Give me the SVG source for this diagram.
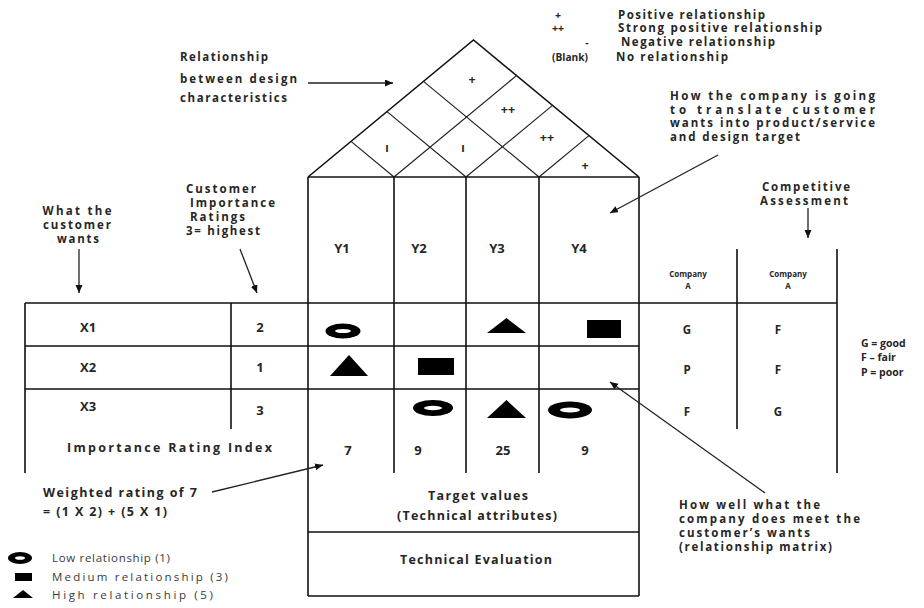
<svg xmlns="http://www.w3.org/2000/svg" width="924" height="608" viewBox="0 0 924 608">
  <style>
    .t { font-family: "Open Sans", "Liberation Sans", sans-serif; font-weight: bold; fill: #262626; }
    .s10 { font-size: 10.5px; }
    .s11 { font-size: 11.5px; }
    .s12 { font-size: 12.5px; }
    .s13 { font-size: 13px; }
    .s8 { font-size: 8px; }
    .lite { font-weight: normal; fill: #3a3a3a; }
    .mid { text-anchor: middle; }
    .ln { stroke: #111; stroke-width: 1.6; fill: none; }
    .thin { stroke: #222; stroke-width: 1.2; fill: none; }
    .arw { stroke: #222; stroke-width: 1.3; fill: none; marker-end: url(#head); }
    .blk { fill: #000; }
    .hole { fill: #fff; }
  </style>
  <defs>
    <marker id="head" markerUnits="userSpaceOnUse" markerWidth="9" markerHeight="8" refX="8" refY="3.5" orient="auto">
      <path d="M0,0 L8,3.5 L0,7 z" fill="#111"/>
    </marker>
  </defs>

  <rect width="924" height="608" fill="#fff"/>

  <!-- Roof: correlation matrix between design characteristics -->
  <g id="roof">
    <path class="ln" d="M308,177 L473.5,40 L639,177"/>
    <path class="thin" d="M394,177 L516.5,75.6 M466,177 L552.5,105.4 M539,177 L589,135.6"/>
    <path class="thin" d="M394,177 L351,141.4 M466,177 L387,111.6 M539,177 L423.5,81.4"/>
    <text class="t s12 mid" x="472" y="84">+</text>
    <text class="t s12 mid" x="508" y="114">++</text>
    <text class="t s12 mid" x="547" y="142">++</text>
    <text class="t s12 mid" x="585" y="170">+</text>
    <text class="t s11 mid" x="387" y="152">ı</text>
    <text class="t s11 mid" x="463" y="152">ı</text>
  </g>

  <!-- Roof symbol key -->
  <g id="roof-key">
    <text class="t s10 mid" x="558" y="19">+</text>
    <text class="t s10 mid" x="558" y="32">++</text>
    <text class="t s10 mid" x="587" y="46">-</text>
    <text class="t s10" x="552" y="61" textLength="36" lengthAdjust="spacingAndGlyphs">(Blank)</text>
    <text class="t s11" x="618" y="19" textLength="147" lengthAdjust="spacing">Positive relationship</text>
    <text class="t s11" x="618" y="32" textLength="204" lengthAdjust="spacing">Strong positive relationship</text>
    <text class="t s11" x="621" y="46" textLength="154" lengthAdjust="spacing">Negative relationship</text>
    <text class="t s11" x="616" y="61" textLength="112" lengthAdjust="spacing">No relationship</text>
  </g>

  <!-- Annotations -->
  <g id="note-roof">
    <text class="t s11" x="180" y="61" textLength="88" lengthAdjust="spacing">Relationship</text>
    <text class="t s11" x="180" y="83" textLength="117" lengthAdjust="spacing">between design</text>
    <text class="t s11" x="180" y="102" textLength="107" lengthAdjust="spacing">characteristics</text>
  </g>
  <g id="note-translate">
    <text class="t s11" x="670" y="100" textLength="205" lengthAdjust="spacing">How the company is going</text>
    <text class="t s11" x="670" y="114" textLength="205" lengthAdjust="spacing">to translate customer</text>
    <text class="t s11" x="670" y="127" textLength="205" lengthAdjust="spacing">wants into product/service</text>
    <text class="t s11" x="670" y="141" textLength="130" lengthAdjust="spacing">and design target</text>
  </g>
  <g id="note-wants">
    <text class="t s11 mid" x="77" y="215" textLength="69" lengthAdjust="spacing">What the</text>
    <text class="t s11 mid" x="77" y="229" textLength="68" lengthAdjust="spacing">customer</text>
    <text class="t s11 mid" x="78" y="243" textLength="42" lengthAdjust="spacing">wants</text>
  </g>
  <g id="note-ratings">
    <text class="t s11" x="186" y="193" textLength="70" lengthAdjust="spacing">Customer</text>
    <text class="t s11" x="190" y="207" textLength="85" lengthAdjust="spacing">Importance</text>
    <text class="t s11" x="190" y="221" textLength="55" lengthAdjust="spacing">Ratings</text>
    <text class="t s11" x="186" y="235" textLength="74" lengthAdjust="spacing">3= highest</text>
  </g>
  <g id="note-competitive">
    <text class="t s11 mid" x="806" y="191" textLength="88" lengthAdjust="spacing">Competitive</text>
    <text class="t s11 mid" x="804" y="205" textLength="88" lengthAdjust="spacing">Assessment</text>
  </g>
  <g id="note-weighted">
    <text class="t s12" x="43" y="497" textLength="154" lengthAdjust="spacing">Weighted rating of 7</text>
    <text class="t s12" x="43" y="516" textLength="124" lengthAdjust="spacing">= (1 X 2) + (5 X 1)</text>
  </g>
  <g id="note-matrix">
    <text class="t s11" x="679" y="509" textLength="141" lengthAdjust="spacing">How well what the</text>
    <text class="t s11" x="679" y="523" textLength="181" lengthAdjust="spacing">company does meet the</text>
    <text class="t s11" x="679" y="537" textLength="131" lengthAdjust="spacing">customer’s wants</text>
    <text class="t s11" x="679" y="551" textLength="153" lengthAdjust="spacing">(relationship matrix)</text>
  </g>

  <!-- Design characteristics header -->
  <g id="design-header">
    <path class="ln" d="M308,177 H639"/>
    <path class="ln" d="M308,177 V596 M394,177 V473 M466,177 V473 M539,177 V473 M639,177 V596"/>
    <text class="t s13 mid" x="342" y="253">Y1</text>
    <text class="t s13 mid" x="419" y="253">Y2</text>
    <text class="t s13 mid" x="497" y="253">Y3</text>
    <text class="t s13 mid" x="579" y="253">Y4</text>
  </g>

  <!-- Customer wants and ratings rows -->
  <g id="wants-table">
    <path class="ln" d="M25,303 H837 M25,346 H639 M25,389 H639"/>
    <path class="ln" d="M25,303 V473 M231,303 V429"/>
    <text class="t s13" x="80" y="332">X1</text>
    <text class="t s13" x="80" y="372">X2</text>
    <text class="t s13" x="80" y="411">X3</text>
    <text class="t s13 mid" x="260" y="332">2</text>
    <text class="t s13 mid" x="260" y="372">1</text>
    <text class="t s13 mid" x="260" y="415">3</text>
    <text class="t s12" x="67" y="452" textLength="205" lengthAdjust="spacing">Importance Rating Index</text>
    <text class="t s13 mid" x="348" y="455">7</text>
    <text class="t s13 mid" x="418" y="455">9</text>
    <text class="t s13 mid" x="503" y="455">25</text>
    <text class="t s13 mid" x="585" y="455">9</text>
  </g>

  <!-- Relationship matrix symbols -->
  <g id="relationship-matrix">
    <ellipse class="blk" cx="343" cy="331" rx="17.5" ry="7.5"/>
    <ellipse class="hole" cx="343" cy="331" rx="8" ry="2"/>
    <ellipse class="blk" cx="433" cy="408" rx="20" ry="8"/>
    <ellipse class="hole" cx="433" cy="408" rx="9" ry="2.2"/>
    <ellipse class="blk" cx="570" cy="410" rx="22" ry="8.5"/>
    <ellipse class="hole" cx="570" cy="410" rx="10" ry="2.4"/>
    <polygon class="blk" points="330,376 368,376 349,355"/>
    <polygon class="blk" points="487,333 526,333 506.5,318"/>
    <polygon class="blk" points="487,418 526,418 506.5,400"/>
    <rect class="blk" x="418" y="358" width="36" height="17"/>
    <rect class="blk" x="587" y="320" width="34" height="18"/>
  </g>

  <!-- Competitive assessment columns -->
  <g id="competitive">
    <path class="ln" d="M737,249 V429 M837,249 V473"/>
    <text class="t s8 mid" x="688" y="277">Company</text>
    <text class="t s8 mid" x="688" y="289">A</text>
    <text class="t s8 mid" x="788" y="277">Company</text>
    <text class="t s8 mid" x="788" y="289">A</text>
    <text class="t s11 mid" x="687" y="334">G</text>
    <text class="t s11 mid" x="687" y="374">P</text>
    <text class="t s11 mid" x="687" y="416">F</text>
    <text class="t s11 mid" x="778" y="334">F</text>
    <text class="t s11 mid" x="778" y="374">F</text>
    <text class="t s11 mid" x="778" y="416">G</text>
  </g>
  <g id="grade-key">
    <text class="t s10" x="861" y="347">G = good</text>
    <text class="t s10" x="861" y="361">F – fair</text>
    <text class="t s10" x="861" y="376">P = poor</text>
  </g>

  <!-- Target values and technical evaluation -->
  <g id="targets">
    <path class="ln" d="M308,532 H639 M308,596 H639"/>
    <text class="t s12 mid" x="478" y="500" textLength="100" lengthAdjust="spacing">Target values</text>
    <text class="t s12 mid" x="477" y="520" textLength="160" lengthAdjust="spacing">(Technical attributes)</text>
    <text class="t s12 mid" x="476" y="564" textLength="152" lengthAdjust="spacing">Technical Evaluation</text>
  </g>

  <!-- Relationship symbol key -->
  <g id="symbol-key">
    <ellipse class="blk" cx="20" cy="558" rx="12" ry="6"/>
    <ellipse class="hole" cx="20" cy="558" rx="5" ry="1.8"/>
    <rect class="blk" x="15" y="573" width="17" height="8"/>
    <polygon class="blk" points="13,598 33,598 23,590"/>
    <text class="t s11 lite" x="52" y="562" textLength="118" lengthAdjust="spacing">Low relationship  (1)</text>
    <text class="t s11 lite" x="52" y="581" textLength="176" lengthAdjust="spacing">Medium relationship  (3)</text>
    <text class="t s11 lite" x="52" y="599" textLength="161" lengthAdjust="spacing">High relationship  (5)</text>
  </g>

  <!-- Connectors -->
  <g id="connectors">
    <path class="arw" d="M308,83 H393"/>
    <path class="arw" d="M79,249 V293"/>
    <path class="arw" d="M240,249 L257,293"/>
    <path class="arw" d="M718,155 L610,213"/>
    <path class="arw" d="M808,208 V238"/>
    <path class="arw" d="M212,492 L323,465"/>
    <path class="arw" d="M765,493 L610,382"/>
  </g>
</svg>
